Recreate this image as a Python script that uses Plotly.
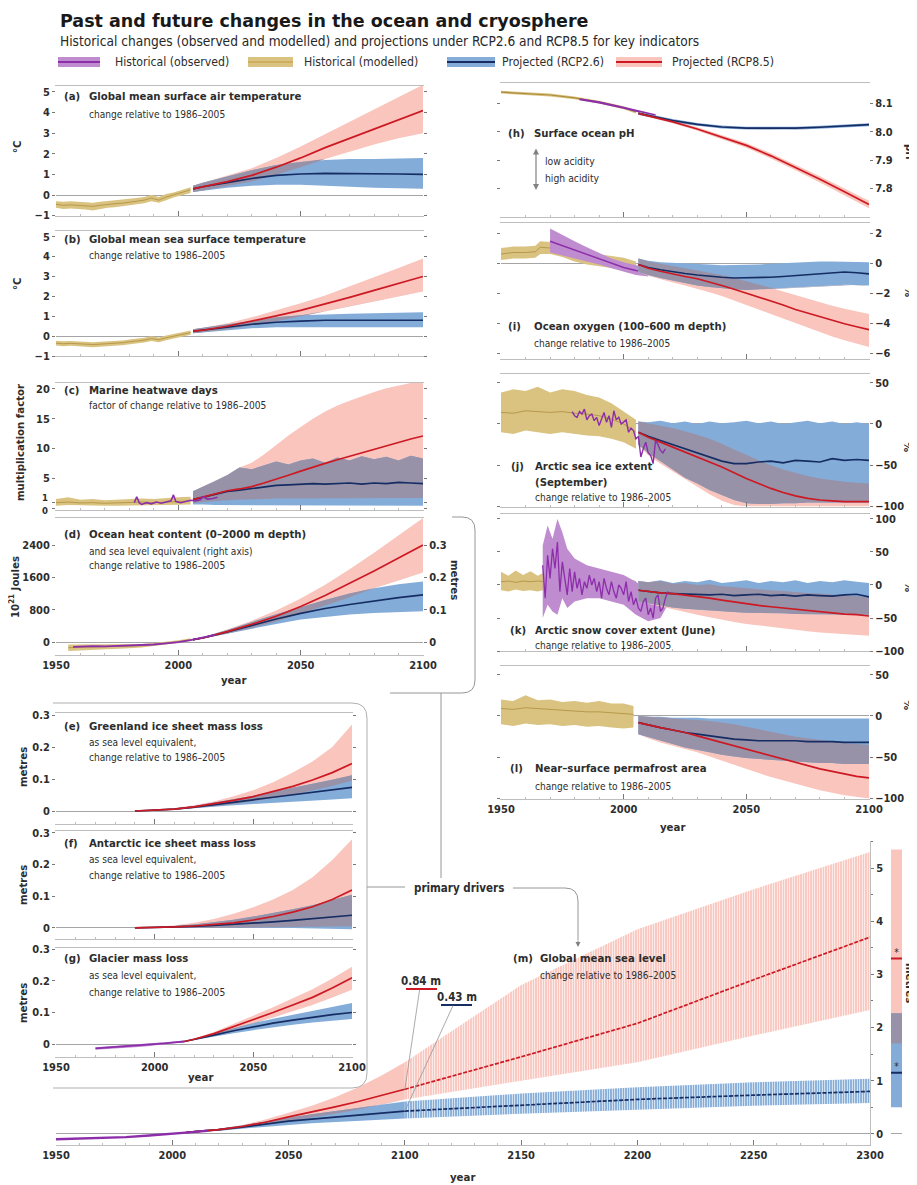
import plotly.graph_objects as go
import numpy as np

W, H = 917, 1185
OFF = 8  # the page body margin shifts the figure; compensate so marks land where the reference has them
NARROW = "Liberation Sans Narrow, Arial Narrow, DejaVu Sans Condensed, sans-serif"
TITLEF = "DejaVu Sans, Open Sans, sans-serif"
TXT = "rgb(45,45,45)"

C_BLUE_BAND = "rgb(132,172,217)"
C_RED_BAND = "rgb(249,197,189)"
C_OVER = "rgb(152,146,168)"
C_GOLD_BAND = "rgb(218,195,128)"
C_GOLD_LINE = "rgb(172,142,62)"
C_PURP_BAND = "rgb(192,140,208)"
C_PURP_LINE = "rgb(140,45,170)"
C_BLUE_LINE = "rgb(22,45,100)"
C_RED_LINE = "rgb(205,25,35)"

# ---------------- DATA ----------------
Y10 = [2006, 2010, 2020, 2030, 2040, 2050, 2060, 2070, 2080, 2090, 2100]
Y5 = [2006, 2010, 2015, 2020, 2025, 2030, 2035, 2040, 2045, 2050,
      2055, 2060, 2065, 2070, 2075, 2080, 2085, 2090, 2095, 2100]
HIST19 = [1950, 1953, 1956, 1959, 1962, 1965, 1968, 1971, 1974, 1977,
          1980, 1983, 1986, 1989, 1992, 1995, 1998, 2001, 2005]

# (a) surface air temperature
a_hist_med = [-0.45, -0.5, -0.48, -0.5, -0.52, -0.55, -0.5, -0.45, -0.42, -0.4, -0.35, -0.3, -0.25, -0.15, -0.25, -0.1, 0.0, 0.1, 0.25]
a_hist_lo = [-0.62, -0.68, -0.65, -0.68, -0.7, -0.75, -0.68, -0.62, -0.6, -0.57, -0.5, -0.45, -0.4, -0.3, -0.38, -0.25, -0.12, -0.02, 0.1]
a_hist_hi = [-0.3, -0.33, -0.3, -0.32, -0.35, -0.38, -0.33, -0.3, -0.26, -0.24, -0.2, -0.15, -0.1, 0.0, -0.1, 0.05, 0.12, 0.22, 0.38]
a26_med = [0.3, 0.4, 0.6, 0.8, 0.95, 1.02, 1.05, 1.05, 1.03, 1.02, 1.0]
a26_lo = [0.15, 0.2, 0.35, 0.45, 0.5, 0.5, 0.45, 0.4, 0.35, 0.32, 0.3]
a26_hi = [0.45, 0.6, 0.9, 1.2, 1.45, 1.6, 1.7, 1.75, 1.75, 1.78, 1.8]
a85_med = [0.3, 0.4, 0.65, 0.95, 1.35, 1.8, 2.3, 2.75, 3.2, 3.65, 4.1]
a85_lo = [0.15, 0.22, 0.42, 0.65, 0.98, 1.35, 1.75, 2.1, 2.45, 2.75, 3.0]
a85_hi = [0.45, 0.6, 0.95, 1.3, 1.8, 2.35, 2.95, 3.55, 4.15, 4.75, 5.35]

# (b) sea surface temperature
b_hist_med = [-0.35, -0.38, -0.36, -0.38, -0.4, -0.42, -0.4, -0.38, -0.36, -0.33, -0.28, -0.25, -0.2, -0.12, -0.18, -0.08, 0.0, 0.08, 0.18]
b_hist_lo = [-0.47, -0.5, -0.48, -0.5, -0.53, -0.55, -0.52, -0.5, -0.48, -0.45, -0.4, -0.37, -0.32, -0.24, -0.3, -0.2, -0.11, -0.03, 0.07]
b_hist_hi = [-0.23, -0.26, -0.24, -0.26, -0.28, -0.3, -0.28, -0.26, -0.24, -0.21, -0.16, -0.13, -0.08, 0.0, -0.06, 0.04, 0.11, 0.19, 0.29]
b26_med = [0.25, 0.3, 0.45, 0.6, 0.7, 0.76, 0.8, 0.8, 0.8, 0.8, 0.8]
b26_lo = [0.15, 0.2, 0.3, 0.4, 0.45, 0.48, 0.48, 0.47, 0.46, 0.45, 0.45]
b26_hi = [0.35, 0.42, 0.6, 0.8, 0.95, 1.05, 1.1, 1.13, 1.15, 1.18, 1.2]
b85_med = [0.25, 0.3, 0.5, 0.75, 1.02, 1.3, 1.62, 1.95, 2.3, 2.65, 3.0]
b85_lo = [0.15, 0.2, 0.35, 0.55, 0.75, 1.0, 1.25, 1.5, 1.75, 2.0, 2.25]
b85_hi = [0.35, 0.42, 0.65, 0.95, 1.3, 1.65, 2.05, 2.5, 2.95, 3.42, 3.9]

# (c) marine heatwave days
c_hist_years = [1950, 1955, 1960, 1965, 1970, 1975, 1980, 1985, 1990, 1995, 2000, 2005]
c_hist_med = [0.9, 1.0, 0.85, 0.9, 0.8, 0.85, 0.9, 1.0, 0.9, 1.0, 1.1, 1.2]
c_hist_lo = [0.4, 0.5, 0.4, 0.45, 0.4, 0.4, 0.45, 0.5, 0.45, 0.5, 0.55, 0.6]
c_hist_hi = [1.5, 1.8, 1.4, 1.5, 1.3, 1.4, 1.5, 1.6, 1.5, 1.7, 1.8, 1.9]
c_obs_years = [1982, 1983, 1984, 1985, 1987, 1989, 1991, 1993, 1995, 1997, 1998, 1999, 2001, 2003, 2005, 2007, 2009, 2010, 2012, 2014, 2016]
c_obs = [0.9, 1.9, 0.9, 0.6, 0.9, 0.7, 1.0, 0.8, 1.0, 1.2, 2.2, 1.1, 0.9, 1.1, 1.3, 1.2, 1.4, 1.9, 1.5, 1.6, 1.8]
c26_med = [1.4, 1.8, 2.3, 2.8, 3.0, 3.3, 3.6, 3.8, 3.9, 4.0, 4.1, 4.0, 4.1, 4.2, 4.0, 4.2, 4.1, 4.3, 4.2, 4.1]
c26_lo = [0.6, 0.6, 0.5, 0.5, 0.5, 0.4, 0.4, 0.4, 0.4, 0.4, 0.4, 0.4, 0.4, 0.4, 0.4, 0.4, 0.4, 0.4, 0.4, 0.4]
c26_hi = [2.8, 3.5, 4.5, 5.5, 6.8, 6.5, 7.2, 7.8, 7.3, 8.0, 8.3, 7.6, 8.5, 8.0, 8.7, 8.2, 8.6, 8.0, 8.8, 8.3]
c85_med = [1.4, 1.8, 2.4, 2.9, 3.2, 3.6, 4.2, 4.8, 5.5, 6.2, 6.9, 7.5, 8.1, 8.7, 9.3, 9.9, 10.5, 11.0, 11.6, 12.1]
c85_lo = [0.8, 1.0, 1.2, 1.3, 1.4, 1.5, 1.5, 1.6, 1.6, 1.6, 1.7, 1.7, 1.7, 1.7, 1.7, 1.7, 1.7, 1.7, 1.7, 1.7]
c85_hi = [2.8, 3.6, 4.6, 5.6, 6.8, 7.6, 9.0, 10.6, 12.2, 13.6, 15.0, 16.2, 17.2, 18.0, 18.8, 19.5, 20.1, 20.6, 21.0, 21.0]

# (d) ocean heat content (10^21 J); right axis metres
OHC_PER_METRE = 8000
d_hist_years = [1955, 1960, 1965, 1970, 1975, 1980, 1985, 1990, 1995, 2000, 2005]
d_hist_med = [-140, -130, -120, -115, -110, -100, -90, -60, -30, 10, 60]
d_hist_lo = [-220, -200, -185, -175, -165, -150, -135, -100, -65, -25, 25]
d_hist_hi = [-60, -60, -55, -55, -55, -50, -45, -20, 5, 45, 95]
d_obs_years = [1957, 1960, 1965, 1970, 1975, 1980, 1985, 1990, 1995, 2000, 2005, 2010, 2015]
d_obs = [-120, -110, -100, -105, -95, -90, -80, -60, -30, 0, 50, 110, 180]
d26_med = [60, 100, 250, 410, 570, 710, 830, 930, 1020, 1100, 1170]
d26_lo = [40, 80, 200, 330, 450, 560, 620, 680, 720, 740, 760]
d26_hi = [80, 120, 300, 490, 690, 860, 1040, 1200, 1330, 1430, 1500]
d85_med = [60, 100, 260, 440, 640, 880, 1150, 1450, 1760, 2080, 2400]
d85_lo = [40, 80, 210, 350, 510, 700, 900, 1110, 1330, 1530, 1720]
d85_hi = [80, 120, 310, 530, 780, 1080, 1420, 1800, 2210, 2640, 3070]

# (e) Greenland, (f) Antarctic (metres SLE)
EF_YEARS = [1990, 2000, 2010, 2020, 2030, 2040, 2050, 2060, 2070, 2080, 2090, 2100]
e26_med = [0, 0.002, 0.006, 0.012, 0.019, 0.027, 0.035, 0.043, 0.051, 0.059, 0.067, 0.074]
e26_lo = [0, 0.001, 0.004, 0.008, 0.013, 0.018, 0.022, 0.026, 0.03, 0.033, 0.036, 0.04]
e26_hi = [0, 0.003, 0.008, 0.016, 0.026, 0.037, 0.048, 0.06, 0.072, 0.085, 0.098, 0.112]
e85_med = [0, 0.002, 0.006, 0.013, 0.022, 0.033, 0.045, 0.06, 0.077, 0.097, 0.12, 0.148]
e85_lo = [0, 0.001, 0.004, 0.009, 0.015, 0.022, 0.03, 0.04, 0.051, 0.064, 0.078, 0.095]
e85_hi = [0, 0.003, 0.009, 0.018, 0.03, 0.046, 0.065, 0.09, 0.12, 0.155, 0.2, 0.27]
f26_med = [0, 0.001, 0.003, 0.005, 0.008, 0.011, 0.015, 0.019, 0.024, 0.029, 0.034, 0.04]
f26_lo = [0, 0, 0, 0, 0, 0, 0, 0, 0, 0, -0.002, -0.004]
f26_hi = [0, 0.002, 0.006, 0.011, 0.018, 0.026, 0.036, 0.047, 0.059, 0.072, 0.088, 0.105]
f85_med = [0, 0.001, 0.003, 0.006, 0.01, 0.016, 0.025, 0.036, 0.05, 0.067, 0.09, 0.12]
f85_lo = [0, 0, 0, 0, 0, 0, 0, 0.001, 0.002, 0.003, 0.004, 0.005]
f85_hi = [0, 0.003, 0.008, 0.016, 0.028, 0.045, 0.065, 0.09, 0.12, 0.16, 0.215, 0.28]

# (g) glaciers
g_obs_years = [1970, 1975, 1980, 1985, 1990, 1995, 2000, 2005, 2010, 2015]
g_obs = [-0.014, -0.012, -0.01, -0.008, -0.006, -0.004, -0.001, 0.002, 0.005, 0.008]
g_obs_lo = [-0.018, -0.016, -0.014, -0.012, -0.01, -0.008, -0.005, -0.002, 0.002, 0.005]
g_obs_hi = [-0.01, -0.008, -0.006, -0.004, -0.002, 0.0, 0.003, 0.006, 0.008, 0.011]
G_YEARS = [2015, 2020, 2030, 2040, 2050, 2060, 2070, 2080, 2090, 2100]
g26_med = [0.008, 0.014, 0.028, 0.042, 0.055, 0.066, 0.076, 0.085, 0.093, 0.1]
g26_lo = [0.007, 0.012, 0.023, 0.034, 0.044, 0.053, 0.061, 0.068, 0.074, 0.079]
g26_hi = [0.009, 0.016, 0.033, 0.05, 0.066, 0.08, 0.093, 0.105, 0.117, 0.13]
g85_med = [0.008, 0.015, 0.033, 0.055, 0.078, 0.1, 0.124, 0.148, 0.178, 0.21]
g85_lo = [0.007, 0.013, 0.028, 0.046, 0.065, 0.084, 0.104, 0.124, 0.148, 0.172]
g85_hi = [0.009, 0.017, 0.038, 0.063, 0.09, 0.117, 0.145, 0.174, 0.208, 0.245]

# (h) surface ocean pH
h_hist_years = [1950, 1960, 1970, 1980, 1990, 2000, 2005]
h_hist_med = [8.14, 8.136, 8.13, 8.12, 8.105, 8.085, 8.07]
h_hist_lo = [8.135, 8.131, 8.125, 8.115, 8.1, 8.08, 8.065]
h_hist_hi = [8.145, 8.141, 8.135, 8.125, 8.11, 8.09, 8.075]
h_obs_years = [1982, 1990, 2000, 2013]
h_obs = [8.115, 8.104, 8.085, 8.058]
h26_med = [8.065, 8.058, 8.04, 8.026, 8.017, 8.013, 8.012, 8.013, 8.016, 8.02, 8.025]
h26_lo = [8.06, 8.053, 8.035, 8.021, 8.012, 8.008, 8.007, 8.008, 8.011, 8.015, 8.02]
h26_hi = [8.07, 8.063, 8.045, 8.031, 8.022, 8.018, 8.017, 8.018, 8.021, 8.025, 8.03]
h85_med = [8.065, 8.057, 8.035, 8.01, 7.982, 7.952, 7.915, 7.874, 7.832, 7.788, 7.743]
h85_lo = [8.06, 8.052, 8.03, 8.004, 7.975, 7.944, 7.906, 7.864, 7.821, 7.776, 7.73]
h85_hi = [8.07, 8.062, 8.04, 8.016, 7.989, 7.96, 7.924, 7.884, 7.843, 7.8, 7.756]

# (i) ocean oxygen (%)
i_hist_years = [1950, 1955, 1960, 1964, 1966, 1970, 1975, 1980, 1985, 1990, 1995, 2000, 2005]
i_hist_med = [0.6, 0.7, 0.7, 0.75, 1.05, 1.0, 0.8, 0.5, 0.3, 0.2, 0.05, -0.05, -0.3]
i_hist_lo = [0.2, 0.3, 0.3, 0.35, 0.6, 0.6, 0.4, 0.1, -0.1, -0.2, -0.35, -0.45, -0.7]
i_hist_hi = [1.0, 1.1, 1.1, 1.15, 1.45, 1.4, 1.2, 0.9, 0.7, 0.6, 0.45, 0.35, 0.1]
i_obs_years = [1970, 1975, 1980, 1985, 1990, 1995, 2000, 2005, 2010]
i_obs = [1.45, 1.15, 0.85, 0.55, 0.25, -0.05, -0.3, -0.5, -0.6]
i_obs_lo = [0.7, 0.5, 0.3, 0.1, -0.1, -0.35, -0.6, -0.8, -0.9]
i_obs_hi = [2.3, 1.85, 1.45, 1.05, 0.65, 0.3, 0.05, -0.15, -0.25]
i26_med = [-0.1, -0.3, -0.45, -0.6, -0.7, -0.8, -0.9, -0.95, -1.0, -1.0, -0.98, -0.95, -0.9, -0.85, -0.8, -0.72, -0.65, -0.6, -0.65, -0.72]
i26_lo = [-0.6, -0.8, -1.0, -1.2, -1.35, -1.5, -1.6, -1.7, -1.75, -1.8, -1.8, -1.75, -1.7, -1.65, -1.6, -1.55, -1.5, -1.45, -1.45, -1.5]
i26_hi = [0.3, 0.15, 0.05, 0.0, -0.05, -0.1, -0.1, -0.15, -0.15, -0.1, -0.1, -0.05, 0.0, 0.05, 0.1, 0.1, 0.1, 0.1, 0.05, 0.05]
i85_med = [-0.1, -0.35, -0.55, -0.75, -0.9, -1.05, -1.25, -1.5, -1.75, -2.0, -2.25, -2.5, -2.8, -3.1, -3.35, -3.6, -3.85, -4.05, -4.25, -4.45]
i85_lo = [-0.6, -0.85, -1.1, -1.3, -1.5, -1.7, -1.95, -2.2, -2.5, -2.75, -3.05, -3.35, -3.7, -4.0, -4.3, -4.6, -4.9, -5.15, -5.4, -5.6]
i85_hi = [0.3, 0.1, -0.05, -0.2, -0.3, -0.45, -0.6, -0.8, -1.0, -1.2, -1.45, -1.65, -1.9, -2.15, -2.4, -2.6, -2.85, -3.05, -3.25, -3.4]

# (j) Arctic sea ice extent September (%)
j_hist_years = [1950, 1955, 1960, 1965, 1970, 1975, 1980, 1985, 1990, 1995, 2000, 2005]
j_hist_med = [14, 13, 16, 15, 14, 15, 13, 12, 10, 6, 0, -10]
j_hist_lo = [-10, -12, -8, -10, -12, -10, -12, -14, -15, -18, -22, -30]
j_hist_hi = [38, 42, 40, 45, 38, 42, 40, 35, 32, 25, 15, 5]
j_obs_years = list(range(1979, 2018))
j_obs = [15, 10, 8, 15, 12, 18, 5, 10, 12, 4,
         8, -2, 6, 14, 2, 10, -4, 16, 5, 8,
         0, 2, 5, -10, -5, -8, -18, -15, -40, -30,
         -22, -35, -38, -48, -20, -25, -32, -35, -30]
j26_med = [-10, -15, -20, -25, -30, -35, -40, -45, -48, -48, -46, -45, -47, -44, -45, -46, -42, -44, -43, -44]
j26_lo = [-25, -35, -45, -55, -65, -72, -80, -86, -92, -96, -97, -97, -96, -96, -95, -95, -95, -95, -95, -95]
j26_hi = [3, 2, 4, 1, 3, 0, 3, 1, 2, 4, 1, 3, 0, 2, 4, 1, 3, 0, 2, 0]
j85_med = [-10, -16, -22, -28, -34, -40, -46, -52, -59, -66, -72, -78, -83, -87, -90, -92, -93, -94, -94, -94]
j85_lo = [-25, -38, -48, -57, -67, -76, -85, -93, -98, -100, -100, -100, -100, -100, -100, -100, -100, -100, -100, -100]
j85_hi = [3, 1, -2, -5, -9, -13, -18, -24, -31, -38, -44, -50, -55, -59, -63, -66, -68, -70, -71, -72]

# (k) Arctic snow cover June (%)
k_hist_med = [5, 6, 4, 6, 5, 6, 5, 4, 5, 4, 4, 3, 3, 2, 1, 0, -2, -4, -8]
k_hist_lo = [-8, -10, -7, -9, -8, -10, -7, -9, -8, -10, -9, -10, -11, -12, -12, -14, -16, -18, -22]
k_hist_hi = [20, 14, 22, 15, 21, 14, 20, 15, 20, 16, 19, 15, 16, 14, 15, 12, 12, 10, 6]
k_obs_years = list(range(1967, 2019))
k_obs = [30, -20, 45, 10, 55, 25, 65, -10, 35, 10,
         -15, 25, -10, 20, -5, 10, -15, 5, -5, 15,
         0, 10, -10, 5, -20, 10, -5, -15, 5, -10,
         -20, 0, -5, -15, 5, -25, -10, -30, -20, -35,
         -40, -25, -20, -45, -35, -50, -20, -15, -40, -35,
         -20, -10]
k_obs_band_years = [1967, 1969, 1971, 1973, 1975, 1977, 1980, 1985, 1990, 1995, 2000, 2005, 2010, 2015, 2018]
k_obs_lo = [-50, -30, -40, -45, -20, -35, -25, -20, -20, -25, -30, -45, -55, -50, -30]
k_obs_hi = [60, 90, 70, 100, 80, 55, 40, 30, 25, 20, 15, 5, -10, -5, 5]
k26_med = [-8, -10, -12, -13, -14, -15, -15, -14, -16, -15, -14, -16, -15, -17, -15, -16, -17, -15, -14, -18]
k26_lo = [-25, -28, -31, -34, -36, -38, -39, -40, -41, -42, -42, -43, -43, -44, -44, -44, -45, -45, -45, -45]
k26_hi = [6, 4, 7, 3, 6, 4, 8, 3, 5, 7, 3, 6, 4, 7, 3, 6, 4, 7, 5, 3]
k85_med = [-8, -10, -12, -13, -15, -17, -20, -23, -26, -29, -31, -33, -35, -37, -39, -41, -43, -44, -45, -47]
k85_lo = [-25, -29, -33, -37, -41, -45, -49, -53, -56, -59, -62, -64, -66, -68, -70, -72, -73, -75, -76, -77]
k85_hi = [6, 4, 6, 2, 3, 0, 1, -2, -3, -5, -6, -8, -9, -11, -12, -13, -15, -16, -17, -18]

# (l) near-surface permafrost area (%)
l_hist_years = [1950, 1955, 1960, 1965, 1970, 1975, 1980, 1985, 1990, 1995, 2000, 2004]
l_hist_med = [9, 8, 10, 9, 8, 7, 6, 5, 5, 4, 3, 2]
l_hist_lo = [-10, -12, -9, -11, -10, -12, -11, -13, -12, -14, -15, -14]
l_hist_hi = [20, 18, 25, 19, 20, 17, 18, 16, 18, 15, 15, 12]
l26_med = [-8, -11, -14, -17, -20, -22, -24, -26, -28, -29, -30, -30, -30, -30, -31, -31, -31, -32, -32, -32]
l26_lo = [-22, -26, -30, -34, -38, -41, -44, -47, -49, -51, -52, -53, -54, -55, -56, -57, -57, -58, -58, -58]
l26_hi = [0, -1, -1, -2, -2, -2, -3, -3, -3, -3, -3, -3, -3, -3, -3, -3, -3, -3, -3, -3]
l85_med = [-8, -11, -14, -17, -20, -24, -28, -32, -36, -40, -44, -48, -52, -56, -60, -64, -67, -70, -73, -75]
l85_lo = [-22, -27, -32, -36, -40, -44, -49, -54, -59, -64, -69, -74, -78, -82, -86, -90, -93, -96, -98, -100]
l85_hi = [0, -1, -2, -3, -4, -5, -6, -8, -10, -13, -16, -19, -22, -25, -27, -29, -31, -33, -34, -35]

# (m) global mean sea level (metres)
m_obs_years = [1950, 1960, 1970, 1980, 1990, 2000, 2010, 2015]
m_obs = [-0.1, -0.09, -0.08, -0.06, -0.03, 0.0, 0.04, 0.06]
M_YEARS = [2006, 2020, 2030, 2040, 2050, 2060, 2070, 2080, 2090, 2100, 2150, 2200, 2250, 2300]
m26_med = [0.03, 0.08, 0.13, 0.19, 0.24, 0.28, 0.32, 0.36, 0.40, 0.43, 0.54, 0.65, 0.73, 0.80]
m26_lo = [0.02, 0.06, 0.10, 0.14, 0.17, 0.20, 0.23, 0.25, 0.27, 0.29, 0.38, 0.46, 0.53, 0.58]
m26_hi = [0.04, 0.10, 0.16, 0.24, 0.31, 0.37, 0.43, 0.49, 0.55, 0.61, 0.76, 0.88, 0.97, 1.04]
m85_med = [0.03, 0.08, 0.14, 0.22, 0.32, 0.41, 0.51, 0.61, 0.72, 0.84, 1.45, 2.08, 2.90, 3.70]
m85_lo = [0.02, 0.06, 0.11, 0.17, 0.24, 0.31, 0.38, 0.46, 0.55, 0.65, 1.00, 1.35, 1.85, 2.33]
m85_hi = [0.04, 0.10, 0.17, 0.27, 0.40, 0.53, 0.69, 0.88, 1.10, 1.35, 2.80, 3.85, 4.60, 5.30]
# 2300 ranges shown in the side bar: [low, median, high]
m_bar_85 = [1.7, 3.3, 5.35]
m_bar_26 = [0.5, 1.15, 2.27]

X_TICK_YEARS = [1950, 2000, 2050, 2100]
M_TICK_YEARS = [1950, 2000, 2050, 2100, 2150, 2200, 2250, 2300]

# ---------------- HELPERS ----------------
fig = go.Figure()
layout = dict(template="none", width=W, height=H, margin=dict(l=0, r=0, t=0, b=0, pad=0, autoexpand=False),
              paper_bgcolor="white", plot_bgcolor="rgba(0,0,0,0)",
              showlegend=False, barmode="overlay", font=dict(family=NARROW, color=TXT))
annotations = []
shapes = []


def xr(n): return "x" if n == 1 else f"x{n}"
def yr(n): return "y" if n == 1 else f"y{n}"
def xk(n): return "xaxis" if n == 1 else f"xaxis{n}"
def yk(n): return "yaxis" if n == 1 else f"yaxis{n}"
def PX(p): return (p - OFF) / W
def PY(p): return 1 - (p - OFF) / H


def band(n, x, lo, hi, color, pattern=None, yref=None):
    xs = list(x) + list(x)[::-1]
    ys = list(hi) + list(lo)[::-1]
    kw = dict(fill="toself", fillcolor=color, line=dict(width=0), mode="lines",
              hoverinfo="skip", xaxis=xr(n), yaxis=yref or yr(n))
    if pattern:
        kw["fillpattern"] = pattern
    fig.add_trace(go.Scatter(x=xs, y=ys, **kw))


def line(n, x, y, color, width=1.6, dash=None):
    fig.add_trace(go.Scatter(x=list(x), y=list(y), mode="lines", hoverinfo="skip",
                             line=dict(color=color, width=width, dash=dash),
                             xaxis=xr(n), yaxis=yr(n)))


def scen(n, x, lo26, md26, hi26, lo85, md85, hi85, pattern=False, lines=True, dash=None):
    lo26, hi26, lo85, hi85 = map(np.asarray, (lo26, hi26, lo85, hi85))
    lo_ov = np.maximum(lo26, lo85)
    hi_ov = np.maximum(np.minimum(hi26, hi85), lo_ov)
    pr = pb = po = None
    if pattern:
        pr = dict(shape="|", bgcolor=C_RED_BAND, fgcolor="white", size=2.5, solidity=0.3)
        pb = dict(shape="|", bgcolor=C_BLUE_BAND, fgcolor="white", size=2.5, solidity=0.3)
        po = dict(shape="|", bgcolor=C_OVER, fgcolor="white", size=2.5, solidity=0.3)
    band(n, x, lo85, hi85, C_RED_BAND, pr)
    band(n, x, lo26, hi26, C_BLUE_BAND, pb)
    band(n, x, lo_ov, hi_ov, C_OVER, po)
    if lines:
        line(n, x, md26, C_BLUE_LINE, 1.7, dash)
        line(n, x, md85, C_RED_LINE, 1.7, dash)


AXC = "rgb(190,190,190)"
TKC = "rgb(120,120,120)"
TICKFONT = dict(family=NARROW, size=11, color=TXT, weight="bold")


def set_x(n, x0, x1, rng, labels=False, mirror=True, tickvals=X_TICK_YEARS):
    layout[xk(n)] = dict(domain=[PX(x0), PX(x1)], range=rng, anchor=yr(n), showgrid=False,
                         zeroline=False, showline=True, linecolor=AXC, linewidth=1, mirror=mirror,
                         ticks="inside", ticklen=5, tickwidth=1, tickcolor=TKC,
                         tickmode="array", tickvals=tickvals, automargin=False,
                         minor=dict(ticks="inside", ticklen=2, dtick=10, tick0=1950, tickcolor=AXC),
                         showticklabels=labels, tickfont=TICKFONT, fixedrange=True)


def set_y(n, top, bot, rng, vals, texts, side="left", zero=True, minor=None, linecolor="rgba(0,0,0,0)", mirror="ticks"):
    d = dict(domain=[PY(bot), PY(top)], range=rng, anchor=xr(n), side=side, showgrid=False,
             zeroline=zero, zerolinecolor="rgb(165,165,165)", zerolinewidth=1,
             showline=True, linecolor=linecolor, mirror=mirror, automargin=False,
             ticks="outside", ticklen=3, tickwidth=1, tickcolor=TKC,
             tickmode="array", tickvals=vals, ticktext=texts, tickfont=TICKFONT, fixedrange=True)
    if minor:
        d["minor"] = minor
    layout[yk(n)] = d


def ann(text, x, y, size=10, bold=False, anchor="left", angle=0, color=TXT, family=NARROW, yanchor="middle"):
    annotations.append(dict(text=text, x=PX(x), y=PY(y), xref="paper", yref="paper",
                            xanchor=anchor, yanchor=yanchor, showarrow=False, textangle=angle,
                            font=dict(family=family, size=size, color=color,
                                      weight="bold" if bold else "normal")))


def neg(v):
    s = f"{v:g}"
    return s.replace("-", "\u2212")


TSZ, SSZ = 11.3, 10.1


def panel_text(tag, title, subs, xtag, xtitle, y, sub_ys, bold_subs=()):
    ann(tag, xtag, y, TSZ, True)
    ann(title, xtitle, y, TSZ, True)
    for s, sy in zip(subs, sub_ys):
        ann(s, xtitle, sy, TSZ if s in bold_subs else SSZ, s in bold_subs)


LX0, LX1 = 56, 423
RX0, RX1 = 501, 869
EX0, EX1 = 56, 352

# ---------------- PANELS ----------------
# (a)
band(1, HIST19, a_hist_lo, a_hist_hi, C_GOLD_BAND)
line(1, HIST19, a_hist_med, C_GOLD_LINE, 0.8)
scen(1, Y10, a26_lo, a26_med, a26_hi, a85_lo, a85_med, a85_hi)
set_x(1, LX0, LX1, [1950, 2100])
set_y(1, 85.8, 215.6, [-1, 5.3], [-1, 0, 1, 2, 3, 4, 5], [neg(v) for v in [-1, 0, 1, 2, 3, 4, 5]])

# (b)
band(2, HIST19, b_hist_lo, b_hist_hi, C_GOLD_BAND)
line(2, HIST19, b_hist_med, C_GOLD_LINE, 0.8)
scen(2, Y10, b26_lo, b26_med, b26_hi, b85_lo, b85_med, b85_hi)
set_x(2, LX0, LX1, [1950, 2100])
set_y(2, 230.7, 356.1, [-1, 5.3], [-1, 0, 1, 2, 3, 4, 5], [neg(v) for v in [-1, 0, 1, 2, 3, 4, 5]])

# (c)
band(3, c_hist_years, c_hist_lo, c_hist_hi, C_GOLD_BAND)
line(3, c_hist_years, c_hist_med, C_GOLD_LINE, 0.8)
scen(3, Y5, c26_lo, c26_med, c26_hi, c85_lo, c85_med, c85_hi)
line(3, c_obs_years, c_obs, C_PURP_LINE, 1.6)
set_x(3, LX0, LX1, [1950, 2100])
set_y(3, 383, 509.8, [-0.3, 21], [0, 1, 5, 10, 15, 20], ["", "", "5", "10", "15", "20"], zero=False)
# the crowded "1" and "0" labels are placed by hand just beside their ticks
ann("1", 50, 497, 9.5, True, anchor="right")
ann("0", 50, 510.5, 9.5, True, anchor="right")

# (d)
band(4, d_hist_years, d_hist_lo, d_hist_hi, C_GOLD_BAND)
line(4, d_hist_years, d_hist_med, C_GOLD_LINE, 0.8)
scen(4, Y10, d26_lo, d26_med, d26_hi, d85_lo, d85_med, d85_hi)
line(4, d_obs_years, d_obs, C_PURP_LINE, 1.8)
set_x(4, LX0, LX1, [1950, 2100], labels=True)
set_y(4, 518, 655, [-320, 3070], [0, 800, 1600, 2400], ["0", "800", "1600", "2400"])
# right axis (sea level equivalent)
fig.add_trace(go.Scatter(x=Y10, y=[v / OHC_PER_METRE for v in d26_med], mode="lines",
                         line=dict(color="rgba(0,0,0,0)", width=0), hoverinfo="skip",
                         xaxis="x4", yaxis="y14"))
layout["yaxis14"] = dict(overlaying="y4", anchor="x4", side="right",
                         range=[-320 / OHC_PER_METRE, 3070 / OHC_PER_METRE],
                         showgrid=False, zeroline=False, showline=False, automargin=False,
                         ticks="outside", ticklen=3, tickcolor=TKC,
                         tickmode="array", tickvals=[0, 0.1, 0.2, 0.3], ticktext=["0", "0.1", "0.2", "0.3"],
                         tickfont=TICKFONT, fixedrange=True)

# (e)
scen(5, EF_YEARS, e26_lo, e26_med, e26_hi, e85_lo, e85_med, e85_hi)
set_x(5, EX0, EX1, [1950, 2100])
set_y(5, 713.4, 823.8, [-0.04, 0.305], [0, 0.1, 0.2, 0.3], ["0", "0.1", "0.2", "0.3"])

# (f)
scen(6, EF_YEARS, f26_lo, f26_med, f26_hi, f85_lo, f85_med, f85_hi)
set_x(6, EX0, EX1, [1950, 2100])
set_y(6, 831.4, 939, [-0.035, 0.305], [0, 0.1, 0.2, 0.3], ["0", "0.1", "0.2", "0.3"])

# (g)
band(7, g_obs_years, g_obs_lo, g_obs_hi, C_PURP_BAND)
line(7, g_obs_years, g_obs, C_PURP_LINE, 1.8)
scen(7, G_YEARS, g26_lo, g26_med, g26_hi, g85_lo, g85_med, g85_hi)
set_x(7, EX0, EX1, [1950, 2100], labels=True)
set_y(7, 947.9, 1056.6, [-0.04, 0.305], [0, 0.1, 0.2, 0.3], ["0", "0.1", "0.2", "0.3"])

# (h)
band(8, h_hist_years, h_hist_lo, h_hist_hi, C_GOLD_BAND)
line(8, h_hist_years, h_hist_med, C_GOLD_LINE, 1.2)
line(8, h_obs_years, h_obs, C_PURP_LINE, 2.2)
scen(8, Y10, h26_lo, h26_med, h26_hi, h85_lo, h85_med, h85_hi)
set_x(8, RX0, RX1, [1950, 2100])
set_y(8, 83.1, 217, [7.699, 8.172], [7.8, 7.9, 8.0, 8.1], ["7.8", "7.9", "8.0", "8.1"], side="right", zero=False)

# (i)
band(9, i_hist_years, i_hist_lo, i_hist_hi, C_GOLD_BAND)
line(9, i_hist_years, i_hist_med, C_GOLD_LINE, 0.8)
band(9, i_obs_years, i_obs_lo, i_obs_hi, C_PURP_BAND)
line(9, i_obs_years, i_obs, C_PURP_LINE, 1.4)
scen(9, Y5, i26_lo, i26_med, i26_hi, i85_lo, i85_med, i85_hi)
set_x(9, RX0, RX1, [1950, 2100])
set_y(9, 222.5, 359, [-6.4, 2.7], [-6, -4, -2, 0, 2], [neg(v) for v in [-6, -4, -2, 0, 2]], side="right")

# (j)
band(10, j_hist_years, j_hist_lo, j_hist_hi, C_GOLD_BAND)
line(10, j_hist_years, j_hist_med, C_GOLD_LINE, 0.8)
scen(10, Y5, j26_lo, j26_med, j26_hi, j85_lo, j85_med, j85_hi)
line(10, j_obs_years, j_obs, C_PURP_LINE, 1.4)
set_x(10, RX0, RX1, [1950, 2100])
set_y(10, 374.4, 506.6, [-100, 60], [-100, -50, 0, 50], [neg(v) for v in [-100, -50, 0, 50]], side="right")

# (k)
band(11, HIST19, k_hist_lo, k_hist_hi, C_GOLD_BAND)
line(11, HIST19, k_hist_med, C_GOLD_LINE, 0.8)
band(11, k_obs_band_years, k_obs_lo, k_obs_hi, C_PURP_BAND)
scen(11, Y5, k26_lo, k26_med, k26_hi, k85_lo, k85_med, k85_hi)
line(11, k_obs_years, k_obs, C_PURP_LINE, 1.3)
set_x(11, RX0, RX1, [1950, 2100])
set_y(11, 513.7, 651, [-100, 108], [-100, -50, 0, 50, 100], [neg(v) for v in [-100, -50, 0, 50, 100]], side="right")

# (l)
band(12, l_hist_years, l_hist_lo, l_hist_hi, C_GOLD_BAND)
line(12, l_hist_years, l_hist_med, C_GOLD_LINE, 0.8)
scen(12, Y5, l26_lo, l26_med, l26_hi, l85_lo, l85_med, l85_hi)
set_x(12, RX0, RX1, [1950, 2100], labels=True)
set_y(12, 665.6, 798.6, [-100, 61], [-100, -50, 0, 50], [neg(v) for v in [-100, -50, 0, 50]], side="right")

# (m)
i2100 = M_YEARS.index(2100)
seg1 = slice(0, i2100 + 1)
seg2 = slice(i2100, None)
scen(13, M_YEARS[seg1], m26_lo[seg1], m26_med[seg1], m26_hi[seg1],
     m85_lo[seg1], m85_med[seg1], m85_hi[seg1])
scen(13, M_YEARS[seg2], m26_lo[seg2], m26_med[seg2], m26_hi[seg2],
     m85_lo[seg2], m85_med[seg2], m85_hi[seg2], pattern=True, dash="4px,1.5px")
line(13, m_obs_years, m_obs, C_PURP_LINE, 2.4)
set_x(13, 56, 870, [1950, 2300], labels=True, mirror=False, tickvals=M_TICK_YEARS)
set_y(13, 841.4, 1144.6, [-0.2, 5.5], [0, 1, 2, 3, 4, 5], ["0", "1", "2", "3", "4", "5"], side="right",
      minor=dict(ticks="outside", ticklen=2, dtick=0.5, tickcolor=TKC), linecolor=AXC, mirror=False)

# side bar for 2300 ranges (x14 on y13)
layout["xaxis14"] = dict(domain=[PX(891), PX(902)], range=[0, 1], anchor="y13", visible=False,
                         fixedrange=True, automargin=False)
ov_lo = max(m_bar_85[0], m_bar_26[0])
ov_hi = min(m_bar_85[2], m_bar_26[2])
for lo_, hi_, col in [(m_bar_85[0], m_bar_85[2], C_RED_BAND), (m_bar_26[0], m_bar_26[2], C_BLUE_BAND),
                      (ov_lo, ov_hi, C_OVER)]:
    fig.add_trace(go.Bar(x=[0.5], y=[hi_ - lo_], base=[lo_], width=[1], marker=dict(color=col, line=dict(width=0)),
                         hoverinfo="skip", xaxis="x14", yaxis="y13"))
for med, col in [(m_bar_85[1], C_RED_LINE), (m_bar_26[1], C_BLUE_LINE)]:
    fig.add_trace(go.Scatter(x=[0, 1], y=[med, med], mode="lines", line=dict(color=col, width=2),
                             hoverinfo="skip", xaxis="x14", yaxis="y13"))
    fig.add_trace(go.Scatter(x=[0.5], y=[med], mode="text", text=["*"], textposition="top center",
                             textfont=dict(family=NARROW, size=10, color=TXT), cliponaxis=False,
                             hoverinfo="skip", xaxis="x14", yaxis="y13"))

# 2100 value call-outs
annotations.append(dict(x=2100, y=m85_med[i2100], xref="x13", yref="y13", ax=16, ay=-108,
                        axref="pixel", ayref="pixel", text=f"{m85_med[i2100]:.2f} m", showarrow=True,
                        arrowhead=0, arrowwidth=0.8, arrowcolor="rgb(150,150,150)",
                        font=dict(family=NARROW, size=11.5, color=TXT, weight="bold")))
annotations.append(dict(x=2100, y=m26_med[i2100], xref="x13", yref="y13", ax=52, ay=-114,
                        axref="pixel", ayref="pixel", text=f"{m26_med[i2100]:.2f} m", showarrow=True,
                        arrowhead=0, arrowwidth=0.8, arrowcolor="rgb(150,150,150)",
                        font=dict(family=NARROW, size=11.5, color=TXT, weight="bold")))
shapes.append(dict(type="line", xref="paper", yref="paper", x0=PX(406), x1=PX(437), y0=PY(989), y1=PY(989),
                   line=dict(color=C_RED_LINE, width=2)))
shapes.append(dict(type="line", xref="paper", yref="paper", x0=PX(441), x1=PX(472), y0=PY(1005), y1=PY(1005),
                   line=dict(color=C_BLUE_LINE, width=2)))

# ---------------- TEXT ----------------
annotations.append(dict(text="Past and future changes in the ocean and cryosphere", x=PX(58), y=PY(8.5),
                        xref="paper", yref="paper", xanchor="left", yanchor="top", showarrow=False,
                        font=dict(family=TITLEF, size=17.5, color="rgb(25,25,25)", weight="bold")))
ann("Historical changes (observed and modelled) and projections under RCP2.6 and RCP8.5 for key indicators",
    58, 41, 13.6, False, color="rgb(40,40,40)")

# legend
legend_items = [("Historical (observed)", 58, 100, C_PURP_BAND, C_PURP_LINE, 113),
                ("Historical (modelled)", 248, 293, C_GOLD_BAND, "rgb(205,175,95)", 302),
                ("Projected (RCP2.6)", 447, 495, C_BLUE_BAND, C_BLUE_LINE, 500),
                ("Projected (RCP8.5)", 616, 662, C_RED_BAND, C_RED_LINE, 670)]
for label, x0, x1, bc, lc, tx in legend_items:
    shapes.append(dict(type="rect", xref="paper", yref="paper", x0=PX(x0), x1=PX(x1), y0=PY(67), y1=PY(57),
                       fillcolor=bc, line=dict(width=0)))
    shapes.append(dict(type="line", xref="paper", yref="paper", x0=PX(x0), x1=PX(x1), y0=PY(62), y1=PY(62),
                       line=dict(color=lc, width=2)))
    ann(label, tx, 62.5, 12.2, False)

LT, LTT = 62, 87
RT, RTT = 506, 532
sub = "change relative to 1986\u20132005"
panel_text("(a)", "Global mean surface air temperature", [sub], LT, LTT, 97, [114])
panel_text("(b)", "Global mean sea surface temperature", [sub], LT, LTT, 239, [256])
panel_text("(c)", "Marine heatwave days", ["factor of change relative to 1986\u20132005"], LT, LTT, 390, [406])
panel_text("(d)", "Ocean heat content (0\u20132000 m depth)",
           ["and sea level equivalent (right axis)", sub], LT, LTT, 534, [551, 565])
panel_text("(e)", "Greenland ice sheet mass loss", ["as sea level equivalent,", sub], LT, LTT, 726, [742, 757])
panel_text("(f)", "Antarctic ice sheet mass loss", ["as sea level equivalent,", sub], LT, LTT, 843, [860, 875])
panel_text("(g)", "Glacier mass loss", ["as sea level equivalent,", sub], LT, LTT, 959, [976, 992])
panel_text("(h)", "Surface ocean pH", [], RT, RTT, 133, [])
panel_text("(i)", "Ocean oxygen (100\u2013600 m depth)", [sub], RT, RTT, 327, [344])
panel_text("(j)", "Arctic sea ice extent", ["(September)", sub], RT + 3, RTT + 1, 466, [482, 497],
           bold_subs=("(September)",))
panel_text("(k)", "Arctic snow cover extent (June)", [sub], RT + 2, RTT + 1, 630, [645])
panel_text("(l)", "Near\u2013surface permafrost area", [sub], RT + 2, RTT + 1, 768, [786])
panel_text("(m)", "Global mean sea level", [sub], 511, 538, 958, [976])

ann("low acidity", 543, 161, 10.3)
ann("high acidity", 543, 178, 10.3)
annotations.append(dict(x=PX(536), y=PY(190), xref="paper", yref="paper", ax=0, ay=-43, axref="pixel", ayref="pixel",
                        text="", showarrow=True, arrowhead=2, arrowside="end+start", arrowsize=1,
                        arrowwidth=1.2, arrowcolor="rgb(130,130,130)"))

# axis titles
ATS = 11.3
ann("\u00b0C", 17, 147, ATS, True, anchor="center", angle=-90)
ann("\u00b0C", 17, 284, ATS, True, anchor="center", angle=-90)
ann("multiplication factor", 21, 443, ATS, True, anchor="center", angle=-90)
ann("10<sup>21</sup> Joules", 15, 587, ATS, True, anchor="center", angle=-90)
ann("metres", 455, 580, ATS, True, anchor="center", angle=90)
for yy in (767, 885, 1003):
    ann("metres", 23, yy, ATS, True, anchor="center", angle=-90)
ann("pH", 909, 152, ATS, True, anchor="center", angle=90)
ann("%", 909, 292, ATS, True, anchor="center", angle=90)
ann("%", 908, 447, ATS, True, anchor="center", angle=90)
ann("%", 908, 587, ATS, True, anchor="center", angle=90)
ann("%", 908, 705, ATS, True, anchor="center", angle=90)
ann("metres", 910, 983, ATS, True, anchor="center", angle=90)
ann("year", 233, 680, ATS, True, anchor="center")
ann("year", 200, 1077, ATS, True, anchor="center")
ann("year", 672, 827, ATS, True, anchor="center")
ann("year", 462, 1177, ATS, True, anchor="center")
ann("primary drivers", 412, 888, 11.5, True)


def path(points):
    out = []
    for cmd, *xy in points:
        if cmd == "Q":
            out.append(f"Q {PX(xy[0])},{PY(xy[1])} {PX(xy[2])},{PY(xy[3])}")
        else:
            out.append(f"{cmd} {PX(xy[0])},{PY(xy[1])}")
    return " ".join(out)


GREYL = dict(color="rgb(150,150,150)", width=1)
# bracket to the right of (d)
shapes.append(dict(type="path", xref="paper", yref="paper", line=GREYL,
                   path=path([("M", 452, 517), ("L", 462, 517), ("Q", 475, 517, 475, 530), ("L", 475, 680),
                              ("Q", 475, 693, 462, 693), ("L", 390, 693)])))
shapes.append(dict(type="line", xref="paper", yref="paper", x0=PX(441), x1=PX(441), y0=PY(693), y1=PY(878),
                   line=GREYL))
# box around (e)-(g)
shapes.append(dict(type="path", xref="paper", yref="paper", line=dict(color="rgb(175,175,175)", width=1),
                   path=path([("M", 53, 703), ("L", 352, 703), ("Q", 367, 703, 367, 718), ("L", 367, 1073),
                              ("Q", 367, 1088, 352, 1088), ("L", 53, 1088)])))
shapes.append(dict(type="line", xref="paper", yref="paper", x0=PX(367), x1=PX(405), y0=PY(887), y1=PY(887),
                   line=GREYL))
shapes.append(dict(type="path", xref="paper", yref="paper", line=GREYL,
                   path=path([("M", 513, 888), ("L", 565, 888), ("Q", 578, 888, 578, 901), ("L", 578, 940)])))
annotations.append(dict(x=PX(578), y=PY(947), xref="paper", yref="paper", ax=0, ay=-8, axref="pixel", ayref="pixel",
                        text="", showarrow=True, arrowhead=2, arrowsize=1, arrowwidth=1,
                        arrowcolor="rgb(130,130,130)"))

layout["annotations"] = annotations
layout["shapes"] = shapes
fig.update_layout(**layout)
fig.write_html("out.html")
